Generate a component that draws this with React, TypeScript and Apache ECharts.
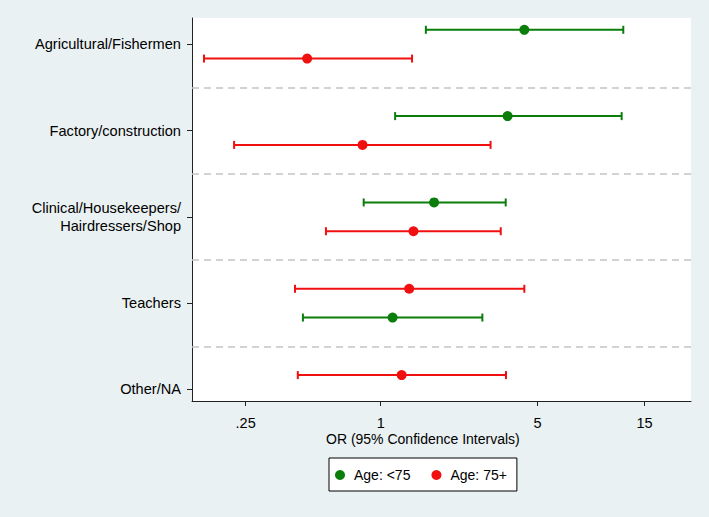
import React, { useEffect, useRef } from "react";
import * as echarts from "echarts";

const categories = [
  "Agricultural/Fishermen",
  "Factory/construction",
  "Clinical/Housekeepers/\nHairdressers/Shop",
  "Teachers",
  "Other/NA",
];
const categoryRows = [1.5, 4.5, 7.5, 10.5, 13.5];
const dividerRows = [3, 6, 9, 12];

const youngRows = [1, 4, 7, 11];
const youngOR = [4.37, 3.68, 1.73, 1.13];
const youngLo = [1.59, 1.16, 0.84, 0.45];
const youngHi = [12.07, 11.87, 3.61, 2.84];

const oldRows = [2, 5, 8, 10, 13];
const oldOR = [0.47, 0.83, 1.4, 1.34, 1.24];
const oldLo = [0.163, 0.222, 0.57, 0.415, 0.427];
const oldHi = [1.38, 3.09, 3.43, 4.37, 3.62];

const xTicks = [0.25, 1, 5, 15];
const xTickLabels = [".25", "1", "5", "15"];

const GREEN = "#0a7d0a";
const RED = "#f01010";
const FONT = "Liberation Sans, Arial, sans-serif";

function ciSeries(name: string, rows: number[], lo: number[], hi: number[], color: string, withDividers: boolean) {
  return {
    type: "custom",
    name,
    data: rows.map((r, i) => [lo[i], hi[i], r]),
    encode: { x: [0, 1], y: 2 },
    renderItem: (params: any, api: any) => {
      const a = api.coord([api.value(0), api.value(2)]);
      const b = api.coord([api.value(1), api.value(2)]);
      const h = 4;
      const style = { stroke: color, lineWidth: 2 };
      return {
        type: "group",
        children: [
          { type: "line", shape: { x1: a[0], y1: a[1], x2: b[0], y2: b[1] }, style },
          { type: "line", shape: { x1: a[0], y1: a[1] - h, x2: a[0], y2: a[1] + h }, style },
          { type: "line", shape: { x1: b[0], y1: b[1] - h, x2: b[0], y2: b[1] + h }, style },
        ],
      };
    },
    markLine: withDividers
      ? {
          silent: true,
          symbol: "none",
          label: { show: false },
          lineStyle: { color: "#c4c4c4", type: [7, 5], width: 1.5 },
          data: dividerRows.map((v) => ({ yAxis: v })),
        }
      : undefined,
    z: 2,
  };
}

export default function App() {
  const ref = useRef<HTMLDivElement>(null);
  useEffect(() => {
    document.body.style.margin = "0";
    const chart = echarts.init(ref.current!, null, { renderer: "svg" });
    chart.setOption({
      animation: false,
      backgroundColor: "#eaf1f3",
      textStyle: { fontFamily: FONT },
      grid: {
        left: 192,
        right: 18,
        top: 18,
        bottom: 116,
        show: true,
        backgroundColor: "#ffffff",
        borderWidth: 0,
      },
      xAxis: {
        type: "log",
        logBase: 10,
        min: 0.1441,
        max: 24.19,
        axisLine: { show: true, onZero: false, lineStyle: { color: "#222", width: 1 } },
        axisTick: { show: true, length: 5, customValues: xTicks, lineStyle: { color: "#222" } },
        axisLabel: {
          customValues: xTicks,
          formatter: (v: number) => {
            const i = xTicks.findIndex((t) => Math.abs(t - v) < 1e-6);
            return i >= 0 ? xTickLabels[i] : "";
          },
          color: "#000",
          fontSize: 14.5,
          margin: 14,
          fontFamily: FONT,
        },
        splitLine: { show: false },
        minorTick: { show: false },
        minorSplitLine: { show: false },
      },
      yAxis: {
        type: "value",
        inverse: true,
        min: 0.59,
        max: 13.9,
        axisLine: { show: true, lineStyle: { color: "#222", width: 1 } },
        axisTick: { show: true, length: 5, customValues: categoryRows, lineStyle: { color: "#222" } },
        axisLabel: {
          customValues: categoryRows,
          formatter: (v: number) => {
            const i = categoryRows.findIndex((t) => Math.abs(t - v) < 1e-6);
            return i >= 0 ? categories[i] : "";
          },
          color: "#000",
          fontSize: 14.6,
          lineHeight: 18,
          margin: 11,
          fontFamily: FONT,
        },
        splitLine: { show: false },
      },
      legend: {
        data: ["Age: <75", "Age: 75+"],
        left: 329,
        top: 458,
        orient: "horizontal",
        backgroundColor: "#fff",
        borderColor: "#000",
        borderWidth: 1,
        borderRadius: 0,
        padding: [10, 10, 9, 6],
        itemWidth: 10,
        itemHeight: 10,
        itemGap: 21,
        icon: "circle",
        textStyle: { fontSize: 14, color: "#000", fontFamily: FONT, padding: [0, 0, 0, 4] },
      },
      graphic: [
        {
          type: "text",
          left: 422 - 96,
          top: 432,
          style: {
            text: "OR (95% Confidence Intervals)",
            fontSize: 14,
            fill: "#000",
            fontFamily: FONT,
          },
        },
      ],
      series: [
        ciSeries("ci-young", youngRows, youngLo, youngHi, GREEN, true),
        ciSeries("ci-old", oldRows, oldLo, oldHi, RED, false),
        {
          type: "scatter",
          name: "Age: <75",
          data: youngRows.map((r, i) => [youngOR[i], r]),
          symbol: "circle",
          symbolSize: 10,
          itemStyle: { color: GREEN, opacity: 1 },
          z: 3,
        },
        {
          type: "scatter",
          name: "Age: 75+",
          data: oldRows.map((r, i) => [oldOR[i], r]),
          symbol: "circle",
          symbolSize: 10,
          itemStyle: { color: RED, opacity: 1 },
          z: 3,
        },
      ],
    });
    return () => chart.dispose();
  }, []);
  return <div ref={ref} style={{ width: 709, height: 517, position: "absolute", left: 0, top: 0 }} />;
}
